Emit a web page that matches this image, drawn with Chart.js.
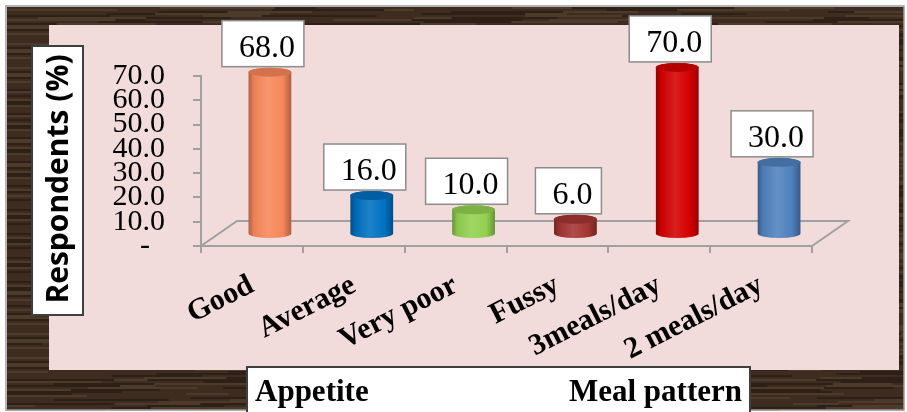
<!DOCTYPE html>
<html>
<head>
<meta charset="utf-8">
<script src="https://cdn.jsdelivr.net/npm/chart.js@4.4.0/dist/chart.umd.min.js"></script>
<style>
  html, body { margin: 0; padding: 0; background: #fff; }
  #wrap { position: relative; width: 907px; height: 412px; }
</style>
</head>
<body>
<div id="wrap"><canvas id="barChart"></canvas></div>
<script>
const categories = ["Good", "Average", "Very poor", "Fussy", "3meals/day", "2 meals/day"];
const respondents = [68.0, 16.0, 10.0, 6.0, 70.0, 30.0];
const yTicks = [0, 10, 20, 30, 40, 50, 60, 70];
const groupLabels = ["Appetite", "Meal pattern"];
const axisTitle = "Respondents (%)";
const barColors = ["#f7875a", "#0070c0", "#92d050", "#a33532", "#d40000", "#4f81bd"];

// 3d look: depth of the floor, half-height of the cylinder ellipses,
// and the slight shrink of the back plane where the bars stand
const DX = 36, DY = -25, RY = 4.5, BACK_SCALE = 0.977;
const SERIF = "'Liberation Serif', 'Times New Roman', serif";

function shade(hex, amt) {
  const n = parseInt(hex.slice(1), 16);
  let r = (n >> 16) & 255, g = (n >> 8) & 255, b = n & 255;
  const t = amt < 0 ? 0 : 255, p = Math.abs(amt);
  r = Math.round(r + (t - r) * p);
  g = Math.round(g + (t - g) * p);
  b = Math.round(b + (t - b) * p);
  return "rgb(" + r + "," + g + "," + b + ")";
}

function drawCylinder(c, cx, top, bottom, rx, color) {
  const g = c.createLinearGradient(cx - rx, 0, cx + rx, 0);
  g.addColorStop(0, shade(color, -0.3));
  g.addColorStop(0.12, shade(color, -0.05));
  g.addColorStop(0.45, shade(color, 0.12));
  g.addColorStop(0.8, color);
  g.addColorStop(1, shade(color, -0.3));
  c.beginPath();
  c.moveTo(cx - rx, top);
  c.lineTo(cx - rx, bottom);
  c.ellipse(cx, bottom, rx, RY, 0, Math.PI, 0, true);
  c.lineTo(cx + rx, top);
  c.ellipse(cx, top, rx, RY, 0, 0, Math.PI, true);
  c.closePath();
  c.fillStyle = g;
  c.fill();
  c.beginPath();
  c.ellipse(cx, top, rx, RY, 0, 0, Math.PI * 2);
  c.fillStyle = shade(color, -0.15);
  c.fill();
}

const frame = {
  id: "frame",
  beforeDraw(chart) {
    const c = chart.ctx;
    c.save();
    c.fillStyle = "#ffffff";
    c.fillRect(0, 0, chart.width, chart.height);
    c.fillStyle = "#3a2a1e";
    c.fillRect(7, 7, 897, 403);
    // wood grain: thin streaks of varying length
    for (let y = 7; y < 410; y += 2) {
      let x = 7;
      let k = 0;
      while (x < 904) {
        const len = 25 + Math.abs(Math.sin(y * 3.7 + k * 1.9)) * 90;
        const v = Math.sin(y * 0.91 + k * 2.3) * Math.cos(y * 0.13 + k * 0.7);
        c.fillStyle = v > 0.35 ? "rgba(120,96,72,0.3)" : v < -0.3 ? "rgba(15,9,5,0.3)" : "rgba(80,58,40,0.16)";
        c.fillRect(x, y, Math.min(len, 904 - x), 2);
        x += len;
        k++;
      }
    }
    c.strokeStyle = "#9c9c9c";
    c.lineWidth = 1.5;
    c.strokeRect(6, 6, 898, 404);
    c.fillStyle = "#f2dcdb";
    c.fillRect(49, 25, 850, 345);
    c.restore();
  },
  beforeDatasetsDraw(chart) {
    const { left, right, bottom } = chart.chartArea;
    const c = chart.ctx;
    c.save();
    c.strokeStyle = "#a0a0a0";
    c.lineWidth = 2;
    c.beginPath();
    c.moveTo(left, bottom);
    c.lineTo(left + DX, bottom + DY);
    c.lineTo(right + DX, bottom + DY);
    c.lineTo(right, bottom);
    c.stroke();
    c.restore();
  },
  afterDatasetsDraw(chart) {
    const c = chart.ctx;
    const meta = chart.getDatasetMeta(0);
    c.save();
    meta.data.forEach(function (bar, i) {
      const cx = bar.x + DX / 2;
      const top = bar.y + DY / 2;
      const base = bar.base + DY / 2;
      drawCylinder(c, cx, top, base, bar.width / 2, barColors[i]);

      const txt = respondents[i].toFixed(1);
      c.font = "32px " + SERIF;
      const tw = c.measureText(txt).width;
      const bw = tw + 26, bh = 46;
      const bcx = cx - 7;
      const bb = top - RY - 1;
      c.fillStyle = "#ffffff";
      c.fillRect(bcx - bw / 2, bb - bh, bw, bh);
      c.strokeStyle = "#8c8c8c";
      c.lineWidth = 1.5;
      c.strokeRect(bcx - bw / 2, bb - bh, bw, bh);
      c.fillStyle = "#000000";
      c.textAlign = "center";
      c.textBaseline = "alphabetic";
      c.fillText(txt, bcx + 4, bb - 10);
    });
    c.restore();
  },
  afterDraw(chart) {
    const c = chart.ctx;
    c.save();
    // y axis title box
    c.fillStyle = "#ffffff";
    c.fillRect(32, 46, 51, 269);
    c.strokeStyle = "#3f3f3f";
    c.lineWidth = 2;
    c.strokeRect(32, 46, 51, 269);
    c.translate(58, 179);
    c.rotate(-Math.PI / 2);
    c.fillStyle = "#000000";
    c.font = "bold 30px 'Open Sans', sans-serif";
    c.textAlign = "center";
    c.textBaseline = "middle";
    c.fillText(axisTitle, 0, 1);
    c.restore();

    // group box under the categories
    c.save();
    c.fillStyle = "#ffffff";
    c.fillRect(247, 367, 503, 46);
    c.strokeStyle = "#3f3f3f";
    c.lineWidth = 2;
    c.strokeRect(247, 367, 503, 46);
    c.fillStyle = "#000000";
    c.font = "bold 31px " + SERIF;
    c.textBaseline = "alphabetic";
    c.textAlign = "left";
    c.fillText(groupLabels[0], 255, 401);
    c.textAlign = "right";
    c.fillText(groupLabels[1], 742, 401);
    c.restore();
  }
};

const ctx = document.getElementById("barChart").getContext("2d");
const barChart = new Chart(ctx, {
  type: "bar",
  data: {
    labels: categories,
    datasets: [
      {
        label: axisTitle,
        data: respondents,
        yAxisID: "yBack",
        backgroundColor: "rgba(0,0,0,0)",
        borderWidth: 0,
        barPercentage: 0.42,
        categoryPercentage: 1,
      },
    ],
  },
  options: {
    responsive: true,
    maintainAspectRatio: false,
    animation: false,
    events: [],
    layout: { padding: { left: 0, right: 95, top: 76, bottom: 0 } },
    plugins: {
      legend: { display: false },
      tooltip: { enabled: false },
    },
    scales: {
      x: {
        afterFit: function (scale) { scale.height = 166; },
        grid: {
          offset: true,
          drawOnChartArea: false,
          tickLength: 7,
          color: "#a0a0a0",
          lineWidth: 2,
        },
        border: { color: "#a0a0a0", width: 2 },
        ticks: {
          autoSkip: false,
          minRotation: 27,
          maxRotation: 27,
          padding: 16,
          color: "#000000",
          font: { family: SERIF, size: 30, weight: "bold", lineHeight: 1.1 },
        },
      },
      y: {
        min: yTicks[0],
        max: yTicks[yTicks.length - 1],
        afterFit: function (scale) { scale.width = 201; },
        grid: {
          drawOnChartArea: false,
          tickLength: 8,
          color: "#a0a0a0",
          lineWidth: 2,
        },
        border: { color: "#a0a0a0", width: 2 },
        ticks: {
          stepSize: yTicks[1] - yTicks[0],
          autoSkip: false,
          padding: 28,
          color: "#000000",
          font: { family: SERIF, size: 30, lineHeight: 1 },
          callback: function (v) { return v === 0 ? "-  " : v.toFixed(1); },
        },
      },
      yBack: {
        display: false,
        min: yTicks[0],
        max: yTicks[yTicks.length - 1] / BACK_SCALE,
      },
    },
  },
  plugins: [frame],
});
</script>
</body>
</html>
